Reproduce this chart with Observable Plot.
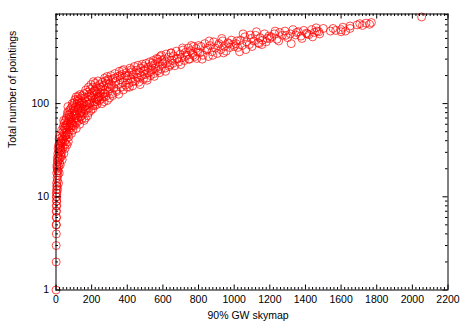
<!DOCTYPE html>
<html><head><meta charset="utf-8">
<script src="https://cdn.jsdelivr.net/npm/d3@7"></script>
<script src="https://cdn.jsdelivr.net/npm/@observablehq/plot@0.6"></script>
<style>body{margin:0;background:#fff}</style>
</head><body><div id="chart"></div>
<script>
// 90% GW skymap area (x) and total number of pointings (y)
const skymapArea = [
  0,1,1,2,2,1,3,2,3,2,4,3,4,2,5,3,1,4,2,6,
  3,5,6,4,8,7,9,10,12,11,6,14,15,13,16,18,17,20,19,22,21,24,25,23,27,28,26,30,29,8,10,12,5,7,15,18,22,25,28,9,
  32,34,35,36,38,40,41,42,44,45,46,48,50,51,52,54,55,57,58,60,62,63,65,66,68,70,71,72,74,75,77,78,80,33,39,47,53,59,64,69,76,43,56,61,73,67,
  82,84,85,87,88,90,92,93,95,96,98,100,101,103,105,106,108,110,112,113,115,117,118,120,122,124,125,127,128,130,132,134,135,137,139,140,142,144,145,147,148,150,86,94,104,114,123,133,143,91,109,126,141,
  152,155,157,160,162,165,167,170,172,175,177,180,182,185,187,190,192,195,196,198,200,203,205,208,210,212,215,218,220,222,225,228,230,232,235,238,240,243,245,248,250,158,168,178,188,197,207,217,227,237,247,163,183,213,233,
  253,256,260,263,266,270,273,276,280,283,286,290,293,296,300,304,308,312,316,320,325,330,335,340,345,350,355,360,365,370,375,380,385,390,395,400,258,268,278,288,298,318,338,358,378,398,272,292,332,352,372,392,
  405,410,415,420,425,430,435,440,445,450,455,460,465,470,475,480,485,490,495,500,505,510,515,520,525,530,535,540,545,550,555,560,565,570,575,580,585,590,595,600,412,432,452,472,492,512,532,552,572,592,422,462,502,542,582,
  605,612,618,625,632,640,646,652,660,667,675,682,690,697,705,712,720,727,735,742,750,757,765,772,780,787,795,800,615,635,655,680,700,725,745,770,790,645,710,760,
  808,815,825,835,845,855,865,875,885,895,905,915,925,935,945,955,965,975,985,995,820,850,880,910,940,970,1000,860,930,
  1010,1020,1035,1045,1060,1070,1085,1095,1110,1120,1135,1145,1160,1170,1185,1195,1030,1065,1100,1140,1180,1050,1125,1200,1015,1090,1155,
  1210,1225,1240,1255,1270,1285,1300,1315,1330,1345,1360,1375,1390,1405,1420,1435,1450,1465,1480,1500,1250,1320,1380,1440,1475,1230,1290,1350,1410,1460,
  1540,1555,1570,1600,1610,1625,1650,1690,1705,1720,1740,1760,1770,1650,1600,
  2052
];
const pointings = [
  1,2,3,4,5,5,6,6,7,8,8,9,10,10,11,12,7,9,11,13,
  14,13,16,18,15,20,12,17,19,24,22,14,21,27,25,18,30,23,33,26,37,22,31,35,28,40,34,27,38,24,29,33,21,26,36,42,45,39,32,19,
  30,44,25,38,50,34,57,42,29,48,62,39,54,33,45,66,58,41,70,52,36,61,75,47,64,56,82,44,68,72,58,86,63,52,41,55,37,49,80,39,76,66,46,59,50,93,
  55,72,90,48,66,80,60,95,52,75,88,68,102,58,84,110,64,92,74,118,62,98,80,106,70,86,120,94,66,108,78,125,100,72,90,115,84,104,68,96,122,88,62,58,78,54,112,60,74,100,70,90,80,
  100,78,128,92,115,70,140,105,86,132,98,118,150,90,125,110,142,84,160,102,130,115,150,96,172,122,104,140,165,112,135,152,98,128,175,118,145,108,160,130,150,66,95,74,100,120,88,95,105,115,120,86,80,135,110,
  140,112,170,128,155,105,188,140,120,165,195,132,150,178,115,145,200,160,128,185,148,210,172,135,195,160,222,180,150,205,168,232,190,158,215,180,100,118,176,108,162,122,140,198,140,150,130,182,188,126,226,200,
  200,165,240,185,218,155,205,250,175,228,192,258,170,215,240,198,265,182,225,205,270,188,245,215,280,200,255,230,290,210,265,240,305,225,278,250,320,235,290,268,150,172,210,160,250,178,220,196,300,330,230,188,232,272,215,
  300,240,340,275,315,260,350,290,325,255,365,305,280,340,310,375,290,355,330,395,300,370,345,410,320,390,360,420,222,250,270,300,262,320,300,330,305,350,395,420,
  350,410,330,440,375,320,420,360,460,395,345,440,380,470,410,365,450,400,480,430,300,390,330,420,350,440,410,470,500,
  440,400,480,420,520,460,430,500,470,540,450,510,480,560,500,530,360,380,410,440,460,560,590,500,470,545,430,
  520,560,490,580,540,600,510,560,620,545,590,530,610,570,550,620,580,600,560,640,470,440,500,520,590,600,540,580,560,650,
  600,640,610,620,660,600,640,700,720,690,730,710,740,680,590,
  850
];
const xTickLabels = [0,200,400,600,800,1000,1200,1400,1600,1800,2000,2200];
const yTickLabels = [1,10,100];
const yMinorTicks = [2,3,4,5,6,7,8,9,20,30,40,50,60,70,80,90,200,300,400,500,600,700,800,900];
const xMinorTicks = d3.range(20, 2200, 20).filter(d => d % 200 !== 0);

const data = skymapArea.map((x, i) => ({x, y: pointings[i]}));
const W = 469, H = 327, mL = 55.5, mR = 21.5, mT = 13.5, mB = 37.5;
const fw = W - mL - mR, fh = H - mT - mB;
const major = 5, minor = 2.5;

const chart = Plot.plot({
  width: W, height: H,
  marginLeft: mL, marginRight: mR, marginTop: mT, marginBottom: mB,
  x: {type: "linear", domain: [0, 2200]},
  y: {type: "log", domain: [1, 915]},
  style: {fontFamily: "'Liberation Sans', Arial, Helvetica, sans-serif", fontSize: "10.5px", background: "white", color: "black"},
  marks: [
    Plot.dot(data, {x: "x", y: "y", r: 4, stroke: "#ff0000", strokeWidth: 0.7, fill: "none"}),
    Plot.frame({stroke: "black", strokeWidth: 1}),
    Plot.tickX(xTickLabels, {x: d => d, insetTop: fh - major, stroke: "black"}),
    Plot.tickX(xTickLabels, {x: d => d, insetBottom: fh - major, stroke: "black"}),
    Plot.tickX(xMinorTicks, {x: d => d, insetTop: fh - minor, stroke: "black"}),
    Plot.tickX(xMinorTicks, {x: d => d, insetBottom: fh - minor, stroke: "black"}),
    Plot.tickY(yTickLabels, {y: d => d, insetRight: fw - major, stroke: "black"}),
    Plot.tickY(yTickLabels, {y: d => d, insetLeft: fw - major, stroke: "black"}),
    Plot.tickY(yMinorTicks, {y: d => d, insetRight: fw - minor, stroke: "black"}),
    Plot.tickY(yMinorTicks, {y: d => d, insetLeft: fw - minor, stroke: "black"}),
    Plot.axisX({ticks: xTickLabels, tickSize: 0, tickPadding: 6, label: null, tickFormat: d => String(d), fontSize: 10.5}),
    Plot.axisY({ticks: yTickLabels, tickSize: 0, tickPadding: 7, label: null, tickFormat: d => String(d), fontSize: 10.5}),
    Plot.text(["90% GW skymap"], {frameAnchor: "bottom", text: d => d, dy: 28.5, dx: -4, fontSize: 10.5}),
    Plot.text(["Total number of pointings"], {frameAnchor: "left", text: d => d, rotate: -90, dx: -43, dy: -4, fontSize: 10.5})
  ]
});
document.getElementById("chart").appendChild(chart);
</script>
</body></html>
